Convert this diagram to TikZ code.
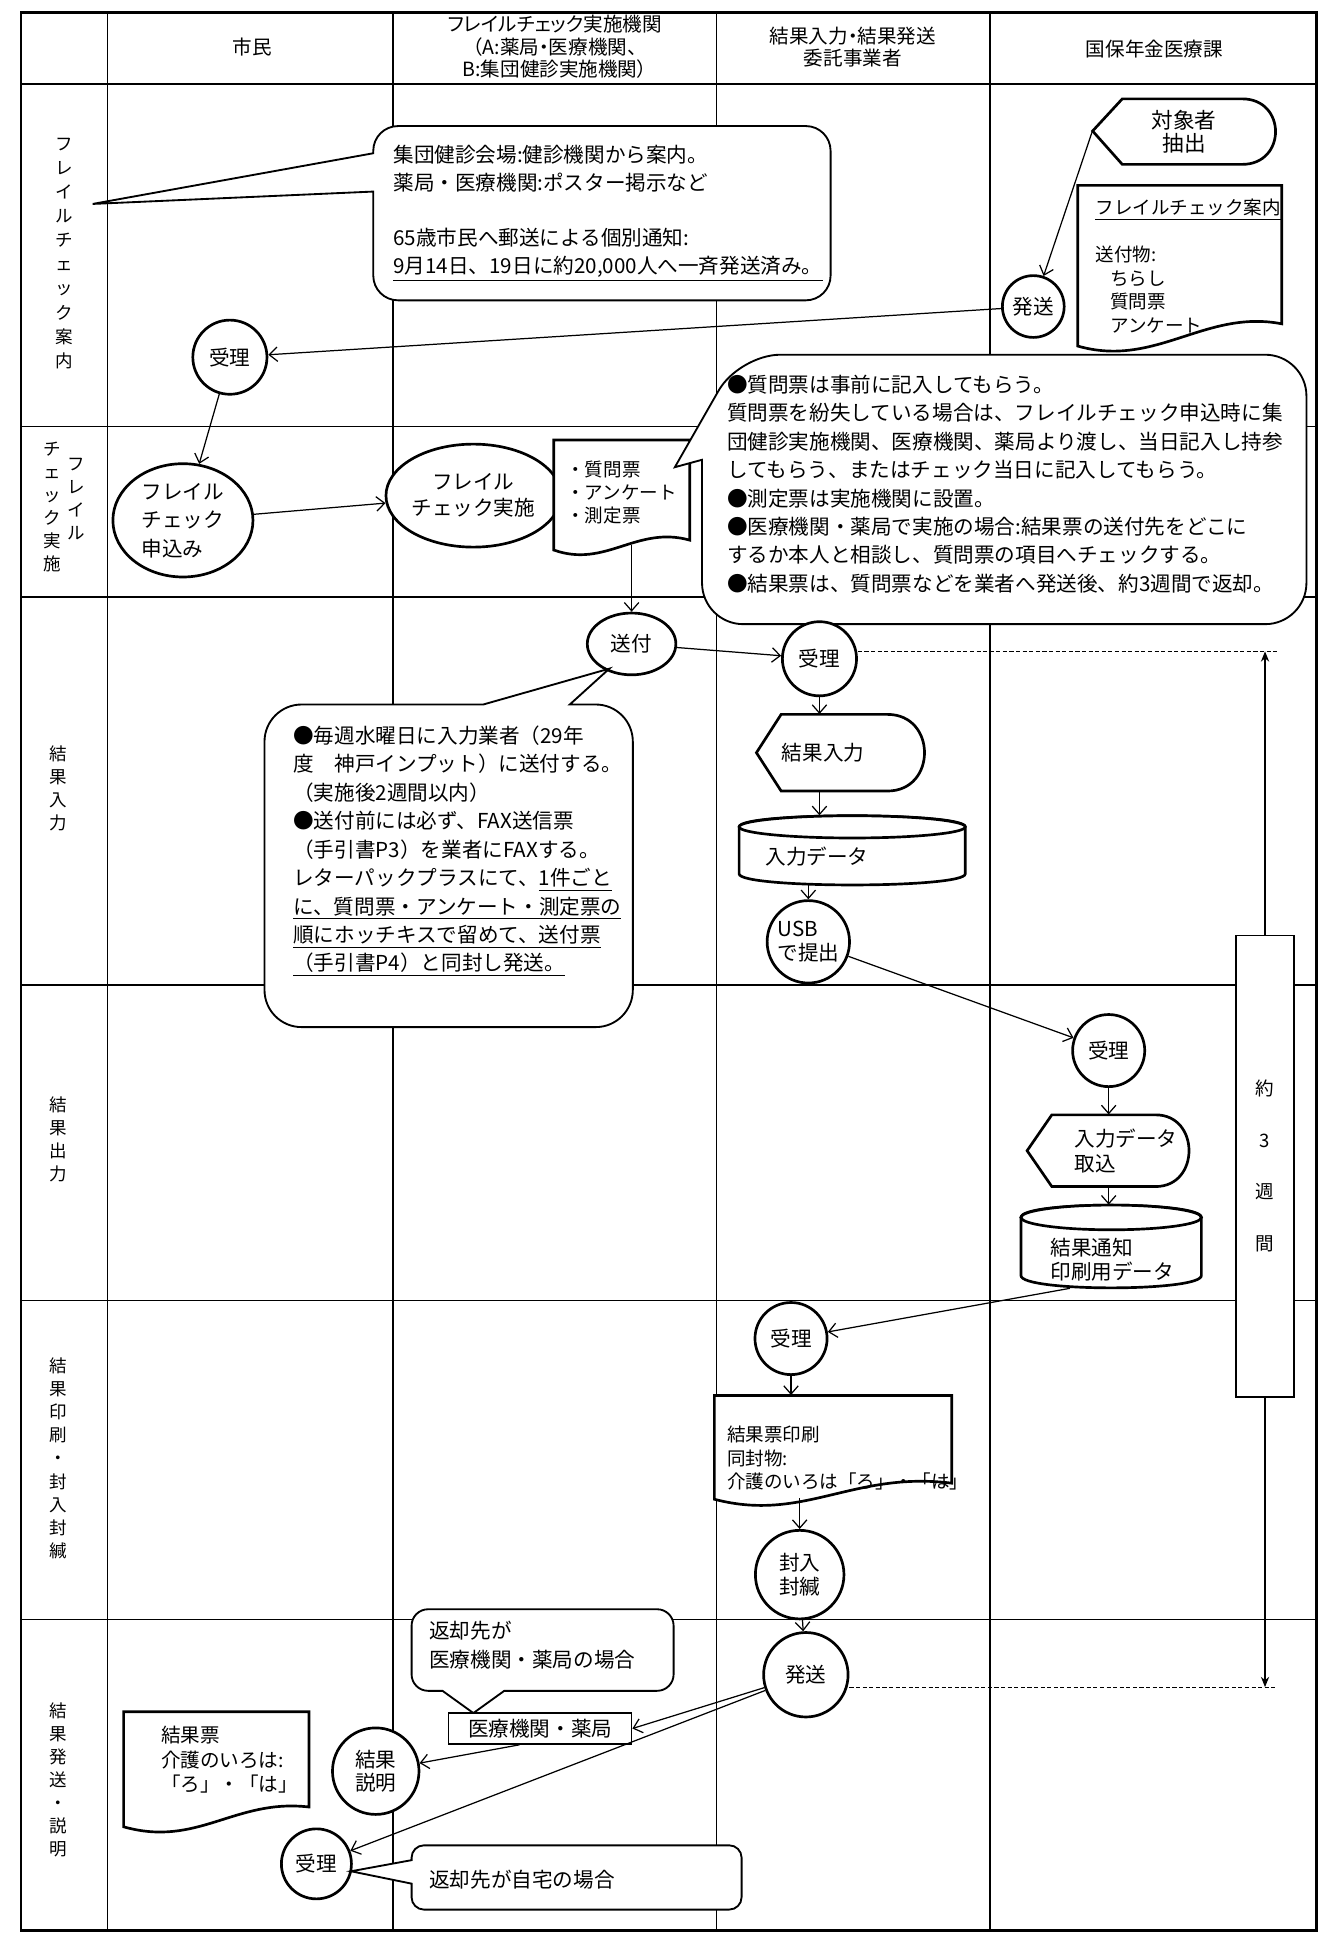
\documentclass[tikz,border=0pt]{standalone}
\usepackage{fontspec}
\setmainfont{Noto Sans CJK JP}
\newfontfamily\hdrfont{Noto Sans CJK JP}[RawFeature=+palt]
\usetikzlibrary{shapes.geometric,arrows.meta}

\tikzset{
  outer/.style={line width=1.2pt},
  lanegrid/.style={line width=0.6pt},
  shp/.style={line width=1.3pt, fill=white},
  shapebox/.style={inner sep=0pt, draw=none},
  circ/.style={circle, draw, line width=1.3pt, fill=white, inner sep=0pt, align=center, font=\fontsize{10}{12}\selectfont},
  oval/.style={ellipse, draw, line width=1.3pt, fill=white, inner sep=0pt, align=left, font=\fontsize{10}{13.8}\selectfont},
  notebox/.style={draw, line width=0.9pt, fill=white},
  arr/.style={-{Straight Barb[length=4pt,width=7pt]}, line width=0.6pt},
  weekarr/.style={-{Stealth[length=5pt,width=4pt]}, line width=0.6pt},
  dashline/.style={line width=0.6pt, dash pattern=on 2pt off 1.2pt},
  hdr/.style={align=center, font=\hdrfont\fontsize{9.5}{11}\selectfont},
  lane/.style={align=center, inner sep=0pt, font=\fontsize{8.5}{11.2}\selectfont},
  txt/.style={align=left, inner sep=0pt, font=\fontsize{10}{13.8}\selectfont},
  doctext/.style={align=left, inner sep=0pt, font=\fontsize{9}{11.4}\selectfont},
}

\begin{document}
\begin{tikzpicture}[x=0.6pt, y=-0.6pt]
    \useasboundingbox (0,0) rectangle (1067,1568);

    % table
    \draw[outer] (17,10) rectangle (1065,1562);
    \draw[outer] (17,68) -- (1065,68);
    \draw[lanegrid] (17,345) -- (1065,345);
    \draw[lanegrid] (17,483) -- (1065,483);
    \draw[lanegrid] (17,797) -- (1065,797);
    \draw[lanegrid] (17,1052) -- (1065,1052);
    \draw[lanegrid] (17,1310) -- (1065,1310);
    \draw[lanegrid] (87,10) -- (87,1562);
    \draw[lanegrid] (318,10) -- (318,1562);
    \draw[lanegrid] (580,10) -- (580,1562);
    \draw[lanegrid] (801,10) -- (801,1562);

    % header
    \node[hdr] (h-shimin) at (204,38) {市民};
    \node[hdr] (h-kikan) at (449,38) {フレイルチェック実施機関\\（A:薬局・医療機関、\\B:集団健診実施機関）};
    \node[hdr] (h-itaku) at (690,38) {結果入力・結果発送\\委託事業者};
    \node[hdr] (h-ka) at (934,40) {国保年金医療課};

    % lane labels
    \node[lane, font=\fontsize{8.5}{11.7}\selectfont] (l-annai) at (52,205) {フ\\レ\\イ\\ル\\チ\\ェ\\ッ\\ク\\案\\内};
    \node[lane] (l-jisshi1) at (62,404) {フ\\レ\\イ\\ル};
    \node[lane] (l-jisshi2) at (42,410) {チ\\ェ\\ッ\\ク\\実\\施};
    \node[lane] (l-nyuryoku) at (47,638) {結\\果\\入\\力};
    \node[lane] (l-shutsuryoku) at (47,922) {結\\果\\出\\力};
    \node[lane] (l-insatsu) at (47,1180) {結\\果\\印\\刷\\・\\封\\入\\封\\緘};
    \node[lane] (l-hassou) at (47,1440) {結\\果\\発\\送\\・\\説\\明};

    % row 1
    \draw[notebox] (75,165) -- (302,155) [rounded corners=12pt] -- (302,243) -- (672,243) -- (672,102) -- (302,102) [sharp corners] -- (302,124) -- cycle;
    \node[txt, anchor=north west, font=\fontsize{10}{13.5}\selectfont] (n-annai) at (318,117) {集団健診会場:健診機関から案内。\\薬局・医療機関:ポスター掲示など\\[13.5pt]65歳市民へ郵送による個別通知:\\\underline{9月14日、19日に約20,000人へ一斉発送済み。}};

    \draw[shp] (884,106) -- (908,80) -- (1005,80) .. controls (1041,80) and (1041,133) .. (1005,133) -- (908,133) -- cycle;
    \node[shapebox, minimum width=88.8pt, minimum height=31.8pt, align=center, font=\fontsize{10.5}{11.5}\selectfont] (chushutsu) at (958,106.5) {対象者\\抽出};

    \draw[shp] (872,150) -- (1037,150) -- (1037,262) .. controls (975,250) and (935,298) .. (872,280) -- cycle;
    \node[doctext, anchor=north west] (annaidoc) at (886,161) {\underline{フレイルチェック案内}\\[11.4pt]送付物:\\\hspace{0.8em}ちらし\\\hspace{0.8em}質問票\\\hspace{0.8em}アンケート};

    \node[circ, minimum size=30pt] (hassou1) at (836,248) {発送};
    \node[circ, minimum size=36pt] (uke1) at (186,289) {受理};

    \draw[arr] (chushutsu.west) -- (hassou1);
    \draw[arr] (hassou1) -- (uke1);

    % row 2
    \node[oval, minimum width=68pt, minimum height=55pt] (moushikomi) at (148,421) {フレイル\\チェック\\申込み};
    \node[oval, minimum width=67pt, minimum height=50pt, align=center, font=\fontsize{10}{12.5}\selectfont] (jisshi) at (383,401) {フレイル\\チェック実施};
    \draw[arr] (uke1) -- (moushikomi);
    \draw[arr] (moushikomi) -- (jisshi);

    \draw[shp] (448,356) -- (558,356) -- (558,437) .. controls (515,425) and (490,460) .. (448,445) -- cycle;
    \node[doctext, minimum width=66pt, minimum height=51pt, font=\fontsize{9}{11}\selectfont] (shitsumon) at (503,398.5) {・質問票\\・アンケート\\・測定票};

    \draw[notebox] (800,287) [rounded corners=20pt] -- (598,287) [sharp corners] -- (546,378) -- (568,372) [rounded corners=20pt] -- (568,505) -- (1057,505) -- (1057,287) -- cycle;
    \node[txt, anchor=north west] (n-jisshi) at (588,303) {●質問票は事前に記入してもらう。\\質問票を紛失している場合は、フレイルチェック申込時に集\\団健診実施機関、医療機関、薬局より渡し、当日記入し持参\\してもらう、またはチェック当日に記入してもらう。\\●測定票は実施機関に設置。\\●医療機関・薬局で実施の場合:結果票の送付先をどこに\\するか本人と相談し、質問票の項目へチェックする。\\●結果票は、質問票などを業者へ発送後、約3週間で返却。};

    % row 3
    \node[oval, minimum width=43pt, minimum height=30pt, align=center] (soufu) at (511,521) {送付};
    \draw[arr] (shitsumon.south -| soufu) -- (soufu);

    \draw[notebox] (214,700) [rounded corners=18pt] -- (214,831) -- (512,831) -- (512,570) [sharp corners] -- (461,570) -- (493,541) -- (391,570) [rounded corners=18pt] -- (214,570) -- cycle;
    \node[txt, anchor=north west] (n-soufu) at (237,587) {●毎週水曜日に入力業者（29年\\度　神戸インプット）に送付する。\\（実施後2週間以内）\\●送付前には必ず、FAX送信票\\（手引書P3）を業者にFAXする。\\レターパックプラスにて、\underline{1件ごと}\\\underline{に、質問票・アンケート・測定票の}\\\underline{順にホッチキスで留めて、送付票}\\\underline{（手引書P4）と同封し発送。}};

    \node[circ, minimum size=36pt] (uke2) at (663,533) {受理};
    \draw[arr] (soufu) -- (uke2);

    \draw[shp] (612,609) -- (632,578) -- (718,578) .. controls (758,578) and (758,640) .. (718,640) -- (632,640) -- cycle;
    \node[shapebox, minimum height=37.2pt, font=\fontsize{10}{12}\selectfont] (kinput) at (666,609) {結果入力};

    \draw[shp] (598,669) -- (598,707) .. controls (598,719) and (781,719) .. (781,707) -- (781,669) .. controls (781,657) and (598,657) .. (598,669) -- cycle;
    \draw[shp] (689.5,669) ellipse [x radius=91.5, y radius=9];
    \node[shapebox, minimum width=109.8pt, minimum height=33.6pt] (indata) at (689.5,688) {};
    \node[txt] (indata-t) at (661,693) {入力データ};

    \node[circ, minimum size=40pt, align=left, font=\fontsize{10}{11.5}\selectfont] (usb) at (654,762) {USB\\で提出};

    \draw[arr] (uke2.south) -- (uke2.south |- kinput.north);
    \draw[arr] (kinput.south -| uke2) -- (uke2 |- indata.north);
    \draw[arr] (indata.south -| usb) -- (usb);

    % row 4
    \node[circ, minimum size=35pt] (uke3) at (897,850) {受理};
    \draw[arr] (usb) -- (uke3);

    \draw[shp] (831,931) -- (851,902) -- (935,902) .. controls (971,902) and (971,960) .. (935,960) -- (851,960) -- cycle;
    \node[shapebox, minimum height=34.8pt, align=left, font=\fontsize{10}{12}\selectfont] (torikomi) at (911,931) {入力データ\\取込};

    \draw[shp] (826,985) -- (826,1032) .. controls (826,1045.3) and (972,1045.3) .. (972,1032) -- (972,985) .. controls (972,971.7) and (826,971.7) .. (826,985) -- cycle;
    \draw[shp] (899,985) ellipse [x radius=73, y radius=10];
    \node[shapebox, minimum width=87.6pt, minimum height=40.2pt] (tsuchi) at (899,1008.5) {};
    \node[txt, font=\fontsize{10}{11.5}\selectfont] (tsuchi-t) at (900,1019) {結果通知\\印刷用データ};

    \draw[arr] (uke3.south) -- (uke3.south |- torikomi.north);
    \draw[arr] (torikomi.south -| uke3) -- (uke3 |- tsuchi.north);

    % row 5
    \node[circ, minimum size=35pt] (uke4) at (640,1083) {受理};
    \draw[arr] ([xshift=-20pt]tsuchi.south) -- (uke4);

    \draw[shp] (578,1129) -- (770,1129) -- (770,1200) .. controls (690,1190) and (650,1232) .. (578,1213) -- cycle;
    \node[shapebox, minimum width=115.2pt, minimum height=49.8pt] (insatsu) at (674,1170.5) {};
    \node[doctext, anchor=west] (insatsu-t) at (588,1180) {結果票印刷\\同封物:\\介護のいろは「ろ」・「は」};

    \node[circ, minimum size=43pt, font=\fontsize{10}{11.5}\selectfont] (funyu) at (647,1274) {封入\\封緘};
    \node[circ, minimum size=41pt] (hassou2) at (652,1355) {発送};

    \draw[arr] (uke4.south) -- (uke4.south |- insatsu.north);
    \draw[arr] (insatsu.south -| funyu) -- (funyu);
    \draw[arr] (funyu) -- (hassou2);

    % row 6
    \draw[notebox] (333,1335) [rounded corners=8pt] -- (333,1368) [sharp corners] -- (358,1368) -- (383,1386) -- (408,1368) [rounded corners=8pt] -- (545,1368) -- (545,1302) -- (333,1302) -- cycle;
    \node[txt, anchor=north west, font=\fontsize{10}{14.4}\selectfont] (n-iryou) at (347,1311) {返却先が\\医療機関・薬局の場合};

    \node[draw, line width=0.8pt, fill=white, inner sep=0pt, minimum width=88.8pt, minimum height=15pt, font=\fontsize{10}{12}\selectfont] (iryou) at (437,1398.5) {医療機関・薬局};
    \node[circ, minimum size=42pt, font=\fontsize{10}{11.5}\selectfont] (setsumei) at (304,1433) {結果\\説明};

    \draw[shp] (100,1385) -- (250,1385) -- (250,1462) .. controls (190,1455) and (160,1495) .. (100,1478) -- cycle;
    \node[doctext, anchor=north west, font=\fontsize{9.5}{12}\selectfont] (kekkahyo) at (130,1396) {結果票\\介護のいろは:\\「ろ」・「は」};

    \node[circ, minimum size=34pt] (uke5) at (256,1508) {受理};

    \draw[notebox] (284,1514) -- (333,1524) [rounded corners=6pt] -- (333,1545) -- (600,1545) -- (600,1493) -- (333,1493) [sharp corners] -- (333,1505) -- cycle;
    \node[txt, anchor=west] (n-jitaku) at (347,1521) {返却先が自宅の場合};

    \draw[arr] (hassou2) -- (iryou.east);
    \draw[arr] (hassou2) -- (uke5);
    \draw[arr] ([xshift=-10pt]iryou.south) -- (setsumei);

    % about 3 weeks
    \coordinate (dash1) at (1033,527);
    \coordinate (dash2) at (1033,1365);
    \draw[dashline] (uke2.east |- dash1) -- (dash1);
    \draw[dashline] (hassou2.east |- dash2) -- (dash2);
    \node[draw, line width=0.8pt, fill=white, inner sep=0pt, minimum width=28pt, minimum height=224pt, align=center, font=\fontsize{9}{25}\selectfont] (weeks) at (1023.5,943.5) {約\\3\\週\\間};
    \draw[weekarr] (weeks.north) -- (weeks.north |- dash1);
    \draw[weekarr] (weeks.south) -- (weeks.south |- dash2);
\end{tikzpicture}
\end{document}
